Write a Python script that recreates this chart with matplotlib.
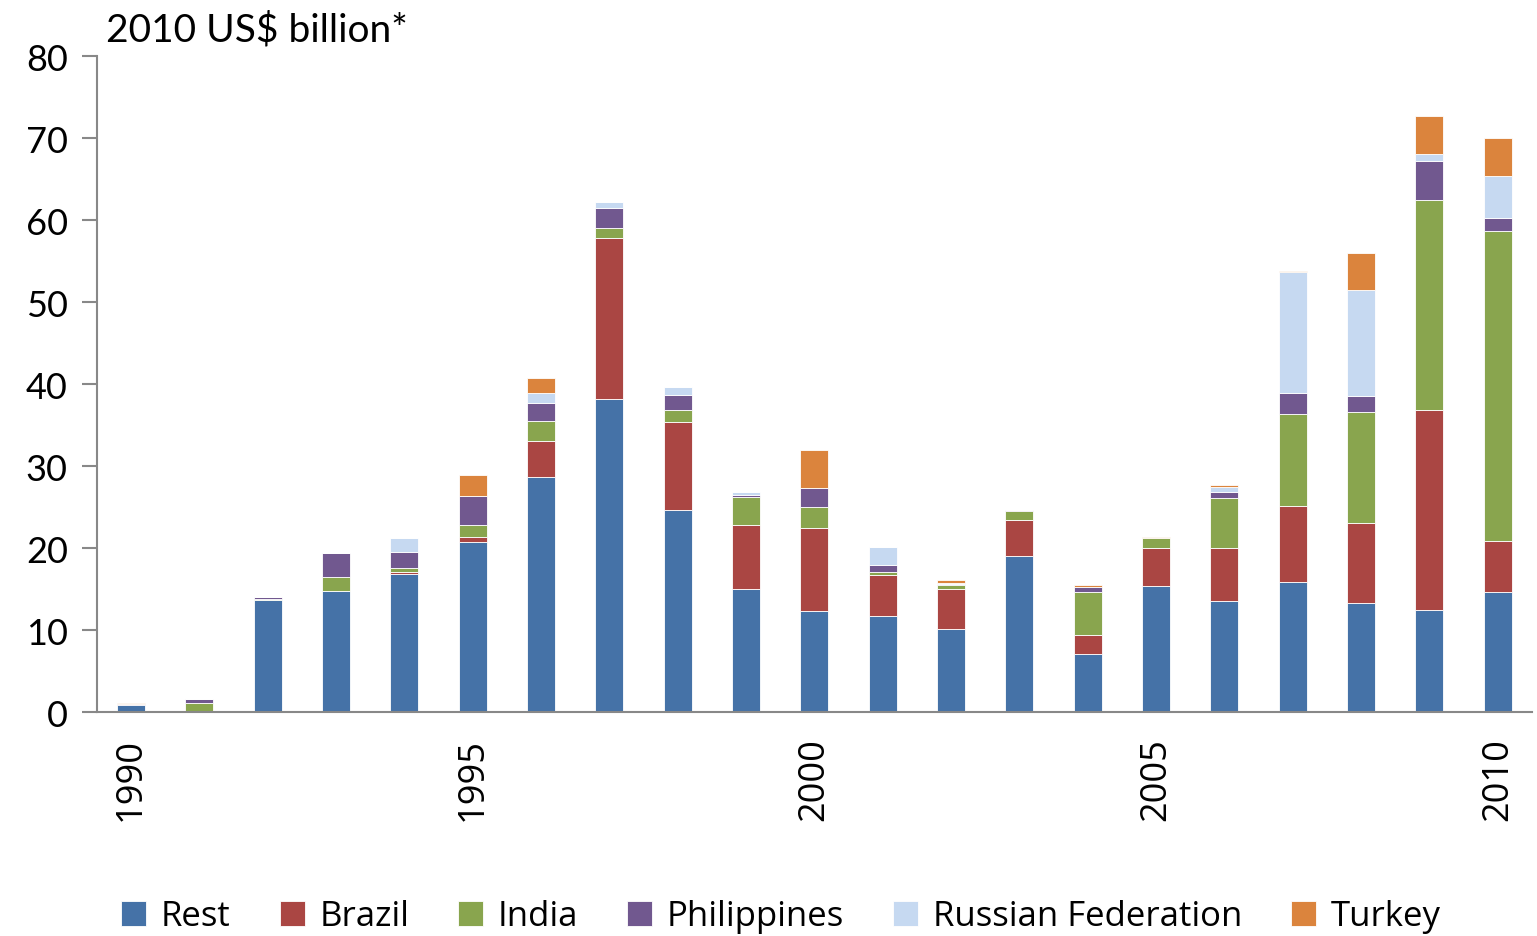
import numpy as np
import matplotlib
matplotlib.use("Agg")
import matplotlib.pyplot as plt

years = list(range(1990, 2011))

# 2010 US$ billion
rest = [0.8, 0.05, 13.7, 14.8, 16.8, 20.8, 28.7, 38.2, 24.7, 15.0, 12.3,
        11.7, 10.1, 19.0, 7.1, 15.4, 13.5, 15.9, 13.3, 12.5, 14.7]
brazil = [0.05, 0.0, 0.0, 0.0, 0.3, 0.5, 4.4, 19.6, 10.7, 7.8, 10.1,
          5.0, 4.9, 4.4, 2.3, 4.6, 6.5, 9.2, 9.7, 24.3, 6.2]
india = [0.05, 1.0, 0.1, 1.7, 0.5, 1.5, 2.4, 1.3, 1.5, 3.4, 2.6,
         0.4, 0.5, 1.1, 5.2, 1.2, 6.1, 11.2, 13.6, 25.7, 37.8]
philippines = [0.05, 0.6, 0.2, 2.9, 1.9, 3.5, 2.2, 2.4, 1.8, 0.3, 2.3,
               0.8, 0.15, 0.2, 0.7, 0.05, 0.7, 2.6, 1.9, 4.7, 1.5]
russia = [0.05, 0.0, 0.0, 0.0, 1.7, 0.05, 1.2, 0.7, 0.9, 0.4, 0.0,
          2.2, 0.1, 0.0, 0.0, 0.0, 0.6, 14.8, 13.0, 0.9, 5.2]
turkey = [0.15, 0.0, 0.0, 0.0, 0.0, 2.6, 1.8, 0.0, 0.0, 0.0, 4.7,
          0.0, 0.4, 0.0, 0.2, 0.15, 0.3, 0.15, 4.5, 4.6, 4.6]

series = [("Rest", rest, "#4572A7"),
          ("Brazil", brazil, "#AA4643"),
          ("India", india, "#89A54E"),
          ("Philippines", philippines, "#71588F"),
          ("Russian Federation", russia, "#C6D9F1"),
          ("Turkey", turkey, "#DB843D")]

fig = plt.figure(figsize=(15.37, 9.37), dpi=100)
ax = fig.add_axes([0.0631, 0.239, 0.9336, 0.700])

x = np.arange(len(years))
bottom = np.zeros(len(years))
for name, vals, col in series:
    vals = np.array(vals)
    ax.bar(x, vals, 0.41, bottom=bottom, color=col, label=name,
           edgecolor="white", linewidth=0.6, zorder=2)
    bottom += vals

ax.set_xlim(-0.5, len(years) - 0.5)
ax.set_ylim(0, 80)
ax.set_yticks(range(0, 81, 10))
ax.set_xticks([i for i, y in enumerate(years) if y % 5 == 0])
ax.set_xticklabels([str(y) for y in years if y % 5 == 0], rotation=90,
                   fontsize=26, family="Open Sans")
ax.tick_params(axis="x", length=0, pad=18)
ax.tick_params(axis="y", direction="out", length=11, width=1.5,
               color="#888888", labelsize=26, pad=10)
for lbl in ax.get_yticklabels():
    lbl.set_family("Lato")

for s in ["top", "right"]:
    ax.spines[s].set_visible(False)
for s in ["left", "bottom"]:
    ax.spines[s].set_color("#888888")
    ax.spines[s].set_linewidth(1.5)

fig.text(0.0690, 0.968, "2010 US$ billion*", fontsize=28, family="Lato",
         va="center", ha="left")

fig.legend(loc="center", bbox_to_anchor=(0.508, 0.021), ncol=6, frameon=False,
           prop={"family": "Open Sans", "size": 25}, handlelength=0.72,
           handleheight=0.72, handletextpad=0.42, columnspacing=1.41)

fig.savefig("out.png", dpi=100)
